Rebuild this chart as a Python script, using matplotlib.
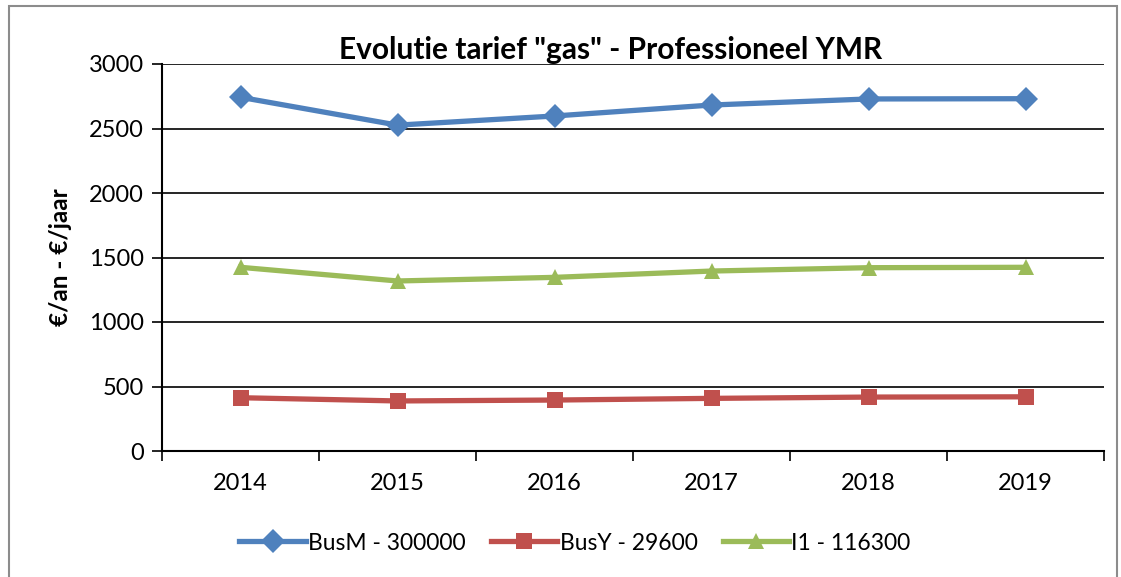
import matplotlib.pyplot as plt
import matplotlib.patches as patches
import numpy as np

plt.rcParams['font.family'] = ['Lato', 'DejaVu Sans']

# Data
years = ['2014', '2015', '2016', '2017', '2018', '2019']
busm = [2742, 2526, 2597, 2682, 2729, 2731]
busy = [413, 388, 395, 408, 418, 420]
i1 = [1424, 1318, 1346, 1395, 1421, 1424]

labels = ['BusM - 300000', 'BusY - 29600', 'I1 - 116300']
colors = ['#4F81BD', '#C0504D', '#9BBB59']
markers = ['D', 's', '^']

W, H = 1121, 577
fig = plt.figure(figsize=(W/100, H/100), dpi=100)
ax = fig.add_axes([162/W, 1-451/H, (1104-162)/W, (451-64)/H])

# outer chart border (Excel style)
fig.patches.append(patches.Rectangle((9/W, -0.1), (1117-9)/W, 1.1-6/H,
                                     transform=fig.transFigure, fill=False,
                                     edgecolor='#8c8c8c', linewidth=1.5))

x = np.arange(len(years))
for vals, lab, c, m in zip([busm, busy, i1], labels, colors, markers):
    ms = 12 if m != 's' else 11
    ax.plot(x, vals, color=c, marker=m, markersize=ms, linewidth=3.8,
            label=lab, markeredgewidth=0, zorder=3)

ax.set_ylim(0, 3000)
ax.set_yticks(np.arange(0, 3001, 500))
ax.set_xlim(-0.5, len(years)-0.5)
ax.set_xticks(x)
ax.set_xticklabels(years)
ax.set_xticks(np.arange(-0.5, len(years)), minor=True)
ax.tick_params(axis='x', which='major', length=0, pad=16, labelsize=17)
ax.tick_params(axis='x', which='minor', length=7, width=1.2, direction='out')
ax.tick_params(axis='y', length=7, width=1.2, direction='out', pad=6, labelsize=17)
ax.grid(axis='y', color='black', linewidth=1.2)
ax.set_axisbelow(True)
for s in ['top', 'right']:
    ax.spines[s].set_visible(False)
ax.spines['left'].set_linewidth(1.5)
ax.spines['bottom'].set_linewidth(1.5)

ax.set_ylabel('€/an - €/jaar', fontsize=17.5, fontweight='bold', labelpad=12)
fig.text(611/W, 1-50/H, 'Evolutie tarief "gas" - Professioneel YMR',
         ha='center', va='center', fontsize=21.5, fontweight='bold')

fig.legend(loc='center', bbox_to_anchor=(575/W, 1-543/H), ncol=3,
           frameon=False, fontsize=16.5, handlelength=2.9, columnspacing=1.1,
           handletextpad=0.1)

fig.savefig('out.png', dpi=100)
